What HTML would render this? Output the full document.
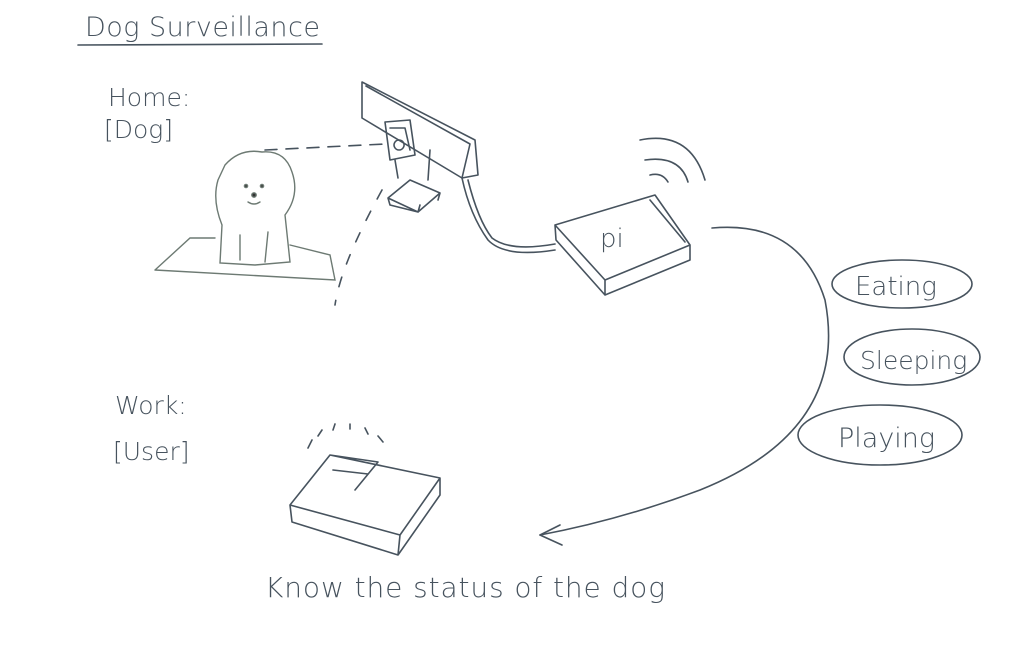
<!DOCTYPE html>
<html><head><meta charset="utf-8"><style>
html,body{margin:0;padding:0;background:#fff;}
svg{display:block;}
text{font-family:"DejaVu Sans","Liberation Sans",sans-serif;fill:#47535e;font-weight:300;}
</style></head><body>
<svg width="1013" height="653" viewBox="0 0 1013 653" xmlns="http://www.w3.org/2000/svg">
<g fill="none" stroke="#47535e" stroke-width="1.6" stroke-linecap="round" stroke-linejoin="round">
<path d="M78 45 L322 44"/>
<path d="M265 150 L385 144" stroke-dasharray="12 9"/>
<path d="M382 190 Q360 230 348 260 Q338 285 335 305" stroke-dasharray="10 14"/>
<path d="M362 82 L475 140 L478 175 L462 178 L362 118 Z M362 82 L362 118 M366 86 L470 144 L462 178"/>
<path d="M385 122 L410 120 L415 155 L390 160 Z M390 128 L405 128 L410 150 M399 140 a5 5 0 1 0 0.1 0"/>
<path d="M395 160 L398 178 M430 150 L428 180"/>
<path d="M388 198 L410 180 L440 193 L418 212 Z M388 198 L390 205 L418 212 L420 205 M440 193 L438 200"/>
<path d="M462 178 Q470 215 488 240 Q505 258 555 250 M468 180 Q478 220 492 238 Q510 252 555 244"/>
<path d="M555 225 L655 195 L690 245 L605 280 Z M555 225 L556 240 L605 295 L690 260 L690 245 M605 280 L605 295 M650 200 L685 242"/>
<path d="M640 140 Q690 130 705 180 M645 160 Q680 155 688 182 M650 175 Q662 172 668 182"/>
<path d="M712 228 Q800 220 825 300 Q850 430 700 490 Q620 520 540 535"/>
<path d="M540 535 L560 525 M540 535 L562 545"/>
<ellipse cx="902" cy="284" rx="70" ry="24"/>
<ellipse cx="912" cy="357" rx="68" ry="28"/>
<ellipse cx="880" cy="435" rx="82" ry="30"/>
<path d="M290 505 L330 455 L440 478 L400 535 Z M290 505 L292 522 L398 555 L440 495 L440 478 M400 535 L398 555 M330 455 L378 462 L355 490 M333 470 L368 474"/>
<path d="M312 440 L308 448 M322 430 L318 436 M335 424 L333 430 M350 424 L350 429 M365 428 L368 434 M378 436 L383 442"/>
</g>
<g fill="none" stroke="#6d7a73" stroke-width="1.4" stroke-linecap="round">
<path d="M155 270 L190 238 L215 238 M290 245 L330 255 L335 280 L155 270"/>
<path d="M225 165 Q240 148 262 152 Q285 150 292 172 Q300 195 285 215 L290 262 L255 265 L220 263 L222 225 Q212 200 218 180 Z"/>
<path d="M240 260 L240 235 M265 262 L268 232"/>
<circle cx="246" cy="186" r="1.6" fill="#333"/><circle cx="262" cy="186" r="1.6" fill="#333"/>
<circle cx="254" cy="195" r="2.2" fill="#333"/>
<path d="M248 202 Q254 206 260 202"/>
</g>
<text x="85" y="36" font-size="27" textLength="235">Dog Surveillance</text>
<text x="108" y="106" font-size="25">Home:</text>
<text x="104" y="138" font-size="25">[Dog]</text>
<text x="115" y="414" font-size="25">Work:</text>
<text x="113" y="460" font-size="25">[User]</text>
<text x="600" y="247" font-size="26">pi</text>
<text x="855" y="295" font-size="26">Eating</text>
<text x="860" y="369" font-size="25">Sleeping</text>
<text x="838" y="447" font-size="27">Playing</text>
<text x="265" y="597" font-size="28" textLength="400">Know the status of the dog</text>
</svg>
</body></html>
